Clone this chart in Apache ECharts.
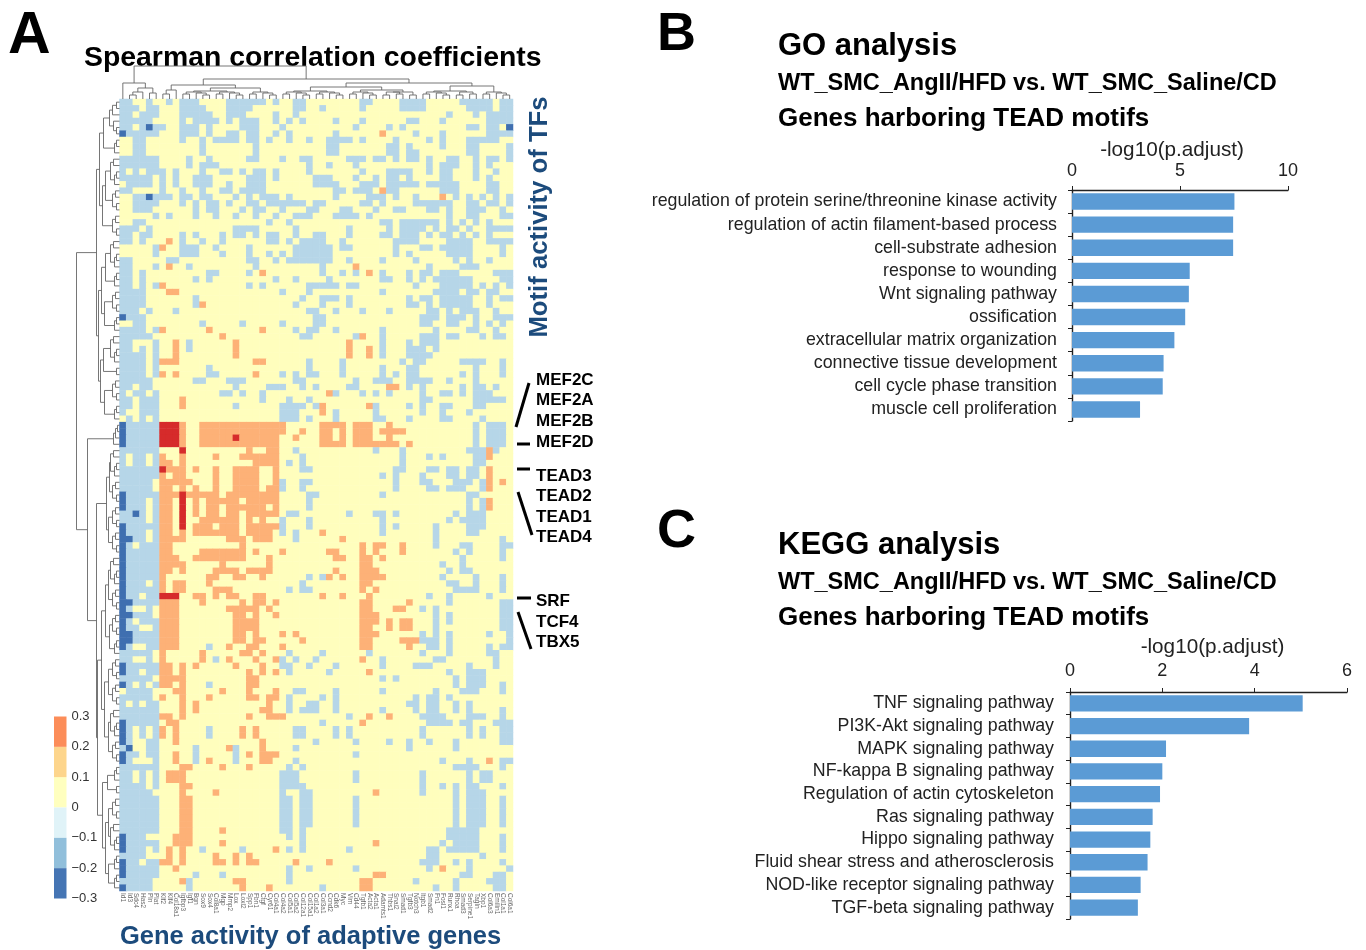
<!DOCTYPE html>
<html><head><meta charset="utf-8">
<style>html,body{margin:0;padding:0;background:#fff}#c{width:1366px;height:950px}</style>
<script src="https://cdn.jsdelivr.net/npm/echarts@6/dist/echarts.min.js"></script>
</head><body><div id="c"></div>
<script>
// ---------- Heatmap: one entry per row; tokens list non-neutral columns.
// plain = light blue bin, d = dark blue bin, o = orange bin, r = red bin
const heatRows = [
"0-1 4 7 9-11 16-21 23 26-27 36-37 42-45 51-55 57-58",
"0-2 4-5 9-12 16-19 26-27 30 36 42-45 52-55 57-58",
"0-1 3-5 9-13 16-18 23 26 49 53 55-58",
"0-4 9 11-14 16 18-20 23 25 27 32 36 43-44 48 55-58",
"0-1 3 4d 5-6 9-11 13 18-20 24 35 40 42 52-53 55-56 58d",
"0d 1-5 9-11 13 16-17 19-20 23 25 32 39o 44 48 55-58",
"2-3 9 12 14-17 19-20 22 25 28 31-34 36 41 46 48 52-56",
"2-3 12 20 31-32 40-41 43 48 52-53 58",
"2-3 12 20 31-32 40-41 43-44 52-53 58",
"0-5 10 13 19-20 24 27-28 34-36 38-39 41 43-44 46 49-50 53 55-56 58",
"0-5 10 12-14 28 31 35 46 48-50 53 55",
"0 2 4-6 8 12 15-16 18 20-21 23 28 36 40-43 46 48-49 53 56",
"0-4 6 8 11-13 19-21 23 29-31 35 38 40-41 43 48-49 53 55",
"1-4 6 8 11-13 16 19-21 29-32 36-38 40-44 46-50 55-56",
"0-1 6 9 12 15-16 18-21 32-33 35-37 39o 40-41 48-50 55-56",
"2-3 4d 5-7 9-10 12-13 17 19 21-23 25 32 37-39 41 44 48o 50 52 54 56 58",
"2-5 9 11 13-14 16 19-20 22-27 29-30 36-37 39 44-49 52-53 55-56 58",
"2-4 11 13-14 18 20-21 24 28-29 33-34 38 41-42 46-47 49 52-54 57",
"5 7 11 14 17 20 23 26-28 32-35 37 49 52-53 57-58",
"2-3 22 25 39-40 42-47 49 51 53 55",
"0-2 4 17-20 26 34 40 42-45 47 49-50 52 55-58",
"0-1 3-4 9 11 15 17-18 20 22-23 26 29-30 34 39-40 42-44 46 48-49 51 53 55",
"0-1 3 7o 9 12 15 22-23 25 27-30 33 41-44 49-52 55-58",
"5 6o 9-11 14 19 26-31 33-34 41 45-46 48-52 57",
"5 9-11 15 19 22 24 26-31 41 43 49-52 57",
"0-1 7-8 19-20 23 25-31 34 39 44 50 52 55",
"0-1 5 7o 10 20 30 35o 46 51-53",
"0-1 3 13-14 19 21o 30 33 35 37o 39 43 45-46 48-50 56-58",
"0-1 3 11 13 23 26 31 39-40 43 45 47-52 57-58",
"0-1 3 5 6o 19 21 28-32 34-35 44 48-52 54 56 58",
"0-3 7-8o 24 28 39 47-50 52-53 55-56",
"0-3 11 27 30-32 34 43 45-46 48-52 55 57-58",
"0-3 11 12o 26 30 34 43-44 46 48-52 55",
"0-2 4 8 28-29 32 36 40 46-47 49 51-53 56",
"0d 1-3 29-30 45-47 49-51 53 56-58",
"2-3 12 18 24 29-30 45-46 49-50 53 55 57",
"0-3 5 6o 13o 21o 26 28-29 32 39 47 52-53 56",
"0-4 15o 27-28 35 36o 39 45-47 49-50 54 56-57",
"0-1 5 8o 10 17o 34o 39 43 45-47",
"0-1 3 5 8o 10 17o 34o 37o 39 43-45 47",
"0-3 5 8o 17o 34o 37o 39 43-46",
"0-3 5 6-8o 20-21o 28 33 42 44-45 51-54 57",
"0-3 5 13 28 33 39 43-44 53 57",
"0-3 5 6o 8o 13-14 20o 24 26 28-29 33 39 41 43-44 51 53 57",
"0-4 11-12 16-18 26-27 35 38-40 43-46 49 53",
"0-1 3-4 17 22-24 27 29 34-35 40-41o 43 45 51 53-54 56",
"0 2-3 5 15-16 18 21 31o 32 36 38 40 45 48-49 51 53-55",
"0-1 3-5 9o 21 25 28 45-46 53-57",
"0-1 3-5 9o 17 24-27 29 30o 37o 38 43 45 48-49 53-54",
"0 3-5 24-26 30o 32 38 45 48 52",
"1 3 5 24-26 28 32 38-39 43 48-49 54",
"0d 1-5 6-8r 9o 12-24o 30-33o 35-37o 40o 53 55-57",
"0d 1-5 6-8r 9o 12-24o 27o 30-31o 33o 35-37o 39-42o 53 55-57",
"0d 1-5 6-8r 9o 12-16o 17r 18-23o 26o 30-31o 33o 35-37o 40o 53 55-57",
"0d 1-5 6-8r 9o 12-23o 30-33o 35-41o 43o 53 55-57",
"0-5 9r 19o 22-23o 26 38 42 52-54 55o 56",
"0 2-3 5 6o 9o 14o 18-23o 27 42 46 48 53-54 55o",
"0 2-3 5 6-7o 9o 20-23o 25 27 42 53-54",
"0-5 6r 7-9o 11o 14o 17-20o 23o 27-28 41-42 46-47 49-50 52-53 55o",
"0-5 6o 8-9o 14o 17-20o 23o 39 41 45 49-50 52-53 55o",
"0-4 6-10o 14o 17-20o 23o 24 27-28 41 45-46 50-52 54 55o 57o",
"0-4 6-7o 9o 11o 14o 17-20o 22-23o 24 27 41 46-47 49-51 54 55o",
"0d 1-5 6-8o 9r 10-14o 16-23o 28-29 39 52-53",
"0d 1-3 5 6-7o 9r 11o 13-17o 19-23o 28 52 54 55o",
"0d 1-3 5 6-7o 9r 11o 13-14o 16-21o 23o 28 52 54 55o",
"0-1 2d 3 5 6-7o 9r 11o 13-14o 16-17o 19-23o 25-26 34 38-39 41 50 52-54",
"0-3 5 6-7o 9r 12-17o 19o 21o 24 28 39 49 51-54",
"0d 1-5 6-7o 9r 11-13o 15-17o 19-23o 24 28 39 41 47 52-54",
"0d 1-3 5 6-7o 9o 11-17o 19-22o 24 26 30o 39 47 52-53",
"0-1d 2-3 5 6-9o 16-18o 20-22o 26 33o 47 57",
"0d 1 3-5 6-7o 18o 36o 38-39o 42o 47 51-52 57-58",
"0d 1-5 6-7o 12-18o 20o 24o 31-32o 36o 38o 42o 50 52 57",
"0d 1-5 6-8o 11-18o 22o 32-33o 36-37o 39o 51 57",
"0d 1-5 6-9o 15o 22o 36-37o 48 51",
"0d 1-5 6-7o 9o 14-17o 19-22o 32o 36-38o 49 51-52",
"0d 1-5 6o 13-14o 17-18o 21o 28 30 31o 33o 36-39o 48 53 57",
"0d 1-3 5 6o 8-9o 13o 27 36-37o 49-50 53 57",
"0d 1-5 6o 8-9o 14-16o 25 27-28 36o 38o 50-53 57",
"0d 1-2 4-5 6-8r 11-12o 14o 16-17o 20-21o 30o 33o 37o 46 49 55",
"0-1d 2-5 6-8o 12o 18o 20-21o 23o 36-37o 43o 49 57-58",
"0d 1 4 6-8o 16-20o 22o 36-37o 41-42o 45 47 57-58",
"0-1d 2-4 6-8o 17-18o 20o 23o 36-38o 47 49 57-58",
"0d 1 3-5 6-8o 17-20o 36-38o 40o 42-43o 47 49 57-58",
"0d 1-2 5 6-8o 17-20o 36-37o 40o 42-43o 47 57-58",
"0-1d 2-5 6-8o 17-18o 20o 24o 26o 36-38o 45 47 49 55 58",
"0-1d 2-5 6-8o 17-18o 20-21o 27o 36-37o 42-44o 45-47 49 58",
"0d 1 4-5 6-8o 13 16o 19-20o 24o 36-37o 43o 46-47 49 55 57-58",
"0-4 6o 12o 18-19o 21o 25 30 37 45 49 55-56",
"0-1 4 6o 12o 14 16o 20o 23o 24 26 29 36o 39 47-48 56",
"0d 1-5 6-7o 9o 11o 17o 21o 24-25 28 32 39 44-46 52 56",
"0d 1-2 4-5 6-7o 9o 19o 21o 23o 25 31 37o 49 52-54",
"0-4 6-9o 19-20o 39 41 50 52-54",
"0d 1 3 5 6-7o 9o 13 19-20o 50 52-54 57",
"1-4 8-9o 15o 19o 23o 26-27 32 39 47 51-53 57",
"0-4 6o 9o 13o 19-20o 22-23o 25 30 32 44 46-47 49",
"0 2 4-5 9o 11o 22o 25 28-29 32 43-44 46-47 50 52",
"0-5 9o 11o 21-22o 25 27-29 32 39 44 46-47 50 52 57",
"0-5 6-7o 9o 19o 22-24o 34 37o 40o 45-48 52-54 57",
"0d 1-5 7-8o 30 36o 46-49 51-52 56-58",
"0d 1 3 5 6o 8o 13 18o 20o 26-27 32 34 45 52 54 57-58",
"0d 1 3 5 6o 8o 13 18o 20o 26-27 32 34 45 52 54 57-58",
"0d 1 4-5 8o 21o 29 35 40 43 46 50 57-58",
"0 1d 4-5 11 16o 17 21o 26 43 50",
"0d 1-2 4-5 8o 11 17 19o 21-23o 35",
"0d 1 5 8o 11 13o 17 21-22o 26 48 52 55o 57-58",
"0-5 9-10o 15o 19o 25 27 50-53 57",
"0-1 3 5 7-9o 24-26 35 45 52 54-55",
"0-1 3 5 7-9o 24-26 35 45 52 54-55",
"0-3 5 9-10o 24-27 45 48 50 52-53 57",
"0-4 9o 14o 24 27-28 38o 45 50 52-54",
"0-5 9-10o 24-25 27-28 35 50 52-54 57",
"0-5 9-10o 24-25 27-28 35 50 52-54 57",
"0-5 9-10o 24-25 27-28 35 50 52-54 57",
"0-5 9-10o 24-25 27-28 35 50 52-54 57",
"0-5 9-10o 24-25 27-28 35 50 52-54 57",
"0-5 9-10o 15o 24-25 27 49-53",
"0d 1-3 8-10o 25 27 49-53 57",
"0d 1-5 8-10o 15o 27 38o 48 50-53 57",
"0d 1-3 5 7o 9o 12 18 23o 25 27 34 46-47 49-53 57",
"0-3 7o 9o 14o 17o 19o 46-47 54",
"0d 1-2 4-5 6-7o 9o 14-15o 17o 19-20o 26o 31o 45-47 50 52 57",
"0d 1-5 8o 25 28 35 46 48o 52 58",
"0d 1-5 11 15 25 38-39o 51-52 56-57",
"0-4 9o 10 17-18o 25 36-37o 44 50 55-57",
"0d 1-4 10 18o 22o 30 36-37o 47 50 56-57"
];
const binValues = {d:-0.25, b:-0.15, n:0.05, o:0.15, r:0.25};
const geneLabels = ["Id1","Id3","Sdc4","Has2","Pln","Plat","Klf2","Klf4","Col18a1","Igfbp3","Igf1","Bgn","Sox9","Sox4","Col8a1","Mgp","Mmp2","Lox","Loxl2","Spp1","Fbn1","Ctgf","Cyr61","Col4a1","Col4a2","Col5a1","Col5a2","Col12a1","Col15a1","Col1a2","Col3a1","Ccnd2","Cdk6","Myc","Vim","Cd44","Tgfb1","Acta2","Acta1","Adamts1","Thbs1","Snai2","Smad1","Tgfb3","Notch3","Itgb1","Smad2","Fn1","Fosl1","Runx1","Rhoa","Smad3","Serpine1","Tagln","Xbp1","Col6a3","Emilin1","Col1a1","Col6a1"];

// ---------- Dendrograms: [height, childA, childB]; 1 = leaf
const s2=[3,1,1], s3=[5,[3,1,1],1], s4=[7,[4,1,1],[3,1,1]], s5=[9,[6,1,1],[5,[3,1,1],1]], s6=[10,[7,[3,1,1],1],[6,1,[3,1,1]]];
const rowTree=[43,
 [23,
  [20,[16,s6,s3],[17,[14,s5,s4],s4]],
  [21,[18,[14,s5,s3],[15,s4,s3]],[19,[16,s5,s2],[15,s4,s3]]]],
 [32,
  [6,[4,[2,1,1],1],1],
  [23,
   [13,[10,s5,s4],[11,s4,s4]],
   [22,
    [18,[14,[11,s5,s4],[10,s4,s3]],[15,[11,s4,s4],[11,s5,s4]]],
    [17,[12,s3,s2],[14,[11,s4,s5],[11,s3,s3]]]]]]];
const c2=[4,1,1], c3=[6,[4,1,1],1], c4=[7,[4,1,1],[5,1,1]], c5=[7,[5,1,1],[6,1,[4,1,1]]];
const colTree=[33,
 [16,1,[11,[7,[4,1,1],1],[6,1,1]]],
 [20,
  [14,[9,[5,1,1],1],[11,[8,c5,c5],c5]],
  [16,
   [12,[8,c5,c5],[9,c5,[7,c4,c2]]],
   [13,[8,c5,c4],c5]]]];

// ---------- Colour key
const keyNeg=[-0.1,-0.1,-0.1], keyPos=[0.1,0.1,0.1];
const keyNegColors=["#e0f3f8","#91bfdb","#4575b4"], keyPosColors=["#ffffbf","#fdd58c","#fc8d59"];

// ---------- GO bars
const goTerms=["regulation of protein serine/threonine kinase activity","regulation of actin filament-based process","cell-substrate adhesion","response to wounding","Wnt signaling pathway","ossification","extracellular matrix organization","connective tissue development","cell cycle phase transition","muscle cell proliferation"];
const goValues=[7.52,7.46,7.46,5.45,5.41,5.24,4.74,4.24,4.20,3.15];
// ---------- KEGG bars
const keggTerms=["TNF signaling pathway","PI3K-Akt signaling pathway","MAPK signaling pathway","NF-kappa B signaling pathway","Regulation of actin cytoskeleton","Ras signaling pathway","Hippo signaling pathway","Fluid shear stress and atherosclerosis","NOD-like receptor signaling pathway","TGF-beta signaling pathway"];
const keggValues=[5.04,3.88,2.08,2.0,1.95,1.79,1.74,1.68,1.53,1.47];

// Text annotations: [text, x, y, size, weight, colour, align]
const navy="#1c4b7c";
const texts=[
["A",8,37,59,"bold","#000","left"],["B",657,35,54,"bold","#000","left"],["C",657,532,54,"bold","#000","left"],
["Spearman correlation coefficients",84,58,28.4,"bold","#000","left"],
["Gene activity of adaptive genes",120,937,25.5,"bold",navy,"left"],
["GO analysis",778,46,31,"bold","#000","left"],
["WT_SMC_AngII/HFD vs. WT_SMC_Saline/CD",778,84,23.5,"bold","#000","left"],
["Genes harboring TEAD motifs",778,119,26,"bold","#000","left"],
["KEGG analysis",778,545,31,"bold","#000","left"],
["WT_SMC_AngII/HFD vs. WT_SMC_Saline/CD",778,583,23.5,"bold","#000","left"],
["Genes harboring TEAD motifs",778,618,26,"bold","#000","left"],
["MEF2C",536,380,17,"bold","#000","left"],["MEF2A",536,400,17,"bold","#000","left"],["MEF2B",536,421,17,"bold","#000","left"],["MEF2D",536,442,17,"bold","#000","left"],
["TEAD3",536,476,17,"bold","#000","left"],["TEAD2",536,496,17,"bold","#000","left"],["TEAD1",536,517,17,"bold","#000","left"],["TEAD4",536,537,17,"bold","#000","left"],
["SRF",536,601,17,"bold","#000","left"],["TCF4",536,622,17,"bold","#000","left"],["TBX5",536,642,17,"bold","#000","left"]
];
const calloutLines=[[516,427,529,383],[517,444,530,444],[517,469,530,469],[518,492,532,535],[517,598,531,598],[518,612,531,649]];

// ---------- Build
const heatData=[];
heatRows.forEach((row,r)=>{
  const cells=new Array(geneLabels.length).fill(binValues.n);
  row.split(" ").forEach(t=>{
    const m=t.match(/^(\d+)(?:-(\d+))?([dor]?)$/);
    const a=+m[1], b=m[2]?+m[2]:a, v=binValues[m[3]||"b"];
    for(let c=a;c<=b;c++) cells[c]=v;
  });
  cells.forEach((v,c)=>heatData.push([c,r,v]));
});
function flatten(tree){
  let next=0; const segs=[];
  (function walk(n){
    if(n===1){return {p:next++,h:0};}
    const a=walk(n[1]), b=walk(n[2]), h=n[0];
    segs.push([a.p,a.h,a.p,h],[b.p,b.h,b.p,h],[a.p,h,b.p,h]);
    return {p:(a.p+b.p)/2,h};
  })(tree);
  return segs;
}
const rowSegs=flatten(rowTree).map(s=>[s[1],s[0],s[3],s[2]]);
const colSegs=flatten(colTree);
const dendro=(xi,yi,data)=>({type:"custom",xAxisIndex:xi,yAxisIndex:yi,data,silent:true,clip:false,
  renderItem:(p,api)=>{const a=api.coord([api.value(0),api.value(1)]),b=api.coord([api.value(2),api.value(3)]);
    return {type:"line",shape:{x1:a[0],y1:a[1],x2:b[0],y2:b[1]},style:{stroke:"#666",lineWidth:0.9}};}});
const barFont={color:"#222",fontFamily:"Liberation Sans, Arial, sans-serif"};
const axisLine={show:true,lineStyle:{color:"#222",width:1.4}};
const barPanel=(g,max,interval,name,gap,terms,labelMargin,tickMargin,namePad)=>({
  x:{gridIndex:g,type:"value",position:"top",min:0,max,interval,splitLine:{show:false},axisLine,axisTick:{show:true,length:4,lineStyle:{color:"#222"}},
     axisLabel:{...barFont,fontSize:18,margin:tickMargin},name,nameLocation:"middle",nameGap:gap,nameTextStyle:{...barFont,fontSize:20.7,padding:namePad}},
  y:{gridIndex:g,type:"category",inverse:true,data:terms,axisLine,axisTick:{show:true,length:4,lineStyle:{color:"#222"}},
     axisLabel:{...barFont,fontSize:17.8,margin:labelMargin,interval:0,padding:[3,0,0,0]}}
});
const go=barPanel(4,10,5,"-log10(p.adjust)",29,goTerms,15,10,[0,16,0,0]);
const kegg=barPanel(5,6,2,"-log10(p.adjust)",34,keggTerms,16,12,[0,0,0,8]);
const graphic=[
 ...calloutLines.map(l=>({type:"line",shape:{x1:l[0],y1:l[1],x2:l[2],y2:l[3]},style:{stroke:"#000",lineWidth:3},silent:true})),
 ...texts.map(t=>({type:"text",x:t[1],y:t[2],silent:true,style:{text:t[0],fill:t[5],font:`${t[4]} ${t[3]}px "Liberation Sans", Arial, sans-serif`,textAlign:t[6],textVerticalAlign:"middle"}})),
 {type:"text",x:540,y:217,rotation:Math.PI/2,silent:true,style:{text:"Motif activity of TFs",fill:navy,font:'bold 25.7px "Liberation Sans", Arial, sans-serif',textAlign:"center",textVerticalAlign:"middle"}}
];
const chart=echarts.init(document.getElementById("c"),null,{renderer:"canvas"});
chart.setOption({
 animation:false,backgroundColor:"#fff",graphic,
 grid:[
  {left:119.5,top:99,width:393.5,height:792},
  {left:74,top:99,width:45.5,height:792},
  {left:119.5,top:66,width:393.5,height:33},
  {left:54,top:716.5,width:12.5,height:182},
  {left:1072,top:190,width:216,height:231},
  {left:1070,top:692,width:277,height:227}
 ],
 xAxis:[
  {gridIndex:0,type:"category",data:geneLabels,axisLine:{show:false},axisTick:{show:false},splitLine:{show:false},
   axisLabel:{interval:0,rotate:-90,fontSize:6.5,color:"#666",margin:2,fontFamily:"Liberation Sans, Arial"}},
  {gridIndex:1,type:"value",inverse:true,min:0,max:45.5,show:false},
  {gridIndex:2,type:"value",min:-0.5,max:58.5,show:false},
  {gridIndex:3,type:"category",data:["key"],show:false},
  go.x,kegg.x
 ],
 yAxis:[
  {gridIndex:0,type:"category",inverse:true,data:heatRows.map((_,i)=>i),show:false},
  {gridIndex:1,type:"value",inverse:true,min:-0.5,max:124.5,show:false},
  {gridIndex:2,type:"value",min:0,max:33,show:false},
  {gridIndex:3,type:"value",position:"right",min:-0.3,max:0.3,interval:0.1,splitLine:{show:false},axisLine:{show:false},axisTick:{show:false},
   axisLabel:{fontSize:13,color:"#333",margin:5,fontFamily:"Liberation Sans, Arial",formatter:v=>{const r=Math.round(v*10)/10;return r<0?"\u2212"+(-r):String(r);}}},
  go.y,kegg.y
 ],
 visualMap:[{show:false,type:"piecewise",seriesIndex:0,dimension:2,pieces:[
  {min:-0.3,max:-0.2,color:"#3f6fb0"},{min:-0.2,max:-0.1,color:"#b6d6e8"},{min:0,max:0.1,color:"#fffebd"},{min:0.1,max:0.2,color:"#fdb177"},{min:0.2,max:0.3,color:"#d62b2b"}]}],
 series:[
  {type:"heatmap",xAxisIndex:0,yAxisIndex:0,data:heatData,silent:true,progressive:0,itemStyle:{borderWidth:0}},
  dendro(1,1,rowSegs),
  dendro(2,2,colSegs),
  ...keyPos.map((v,i)=>({type:"bar",xAxisIndex:3,yAxisIndex:3,stack:"k",barWidth:"100%",silent:true,data:[{value:v,itemStyle:{color:keyPosColors[i]}}]})),
  ...keyNeg.map((v,i)=>({type:"bar",xAxisIndex:3,yAxisIndex:3,stack:"k",barWidth:"100%",silent:true,data:[{value:v,itemStyle:{color:keyNegColors[i]}}]})),
  {type:"bar",xAxisIndex:4,yAxisIndex:4,data:goValues,barWidth:"71%",silent:true,itemStyle:{color:"#5b9bd5"}},
  {type:"bar",xAxisIndex:5,yAxisIndex:5,data:keggValues,barWidth:"72%",silent:true,itemStyle:{color:"#5b9bd5"}}
 ]
});
</script></body></html>
